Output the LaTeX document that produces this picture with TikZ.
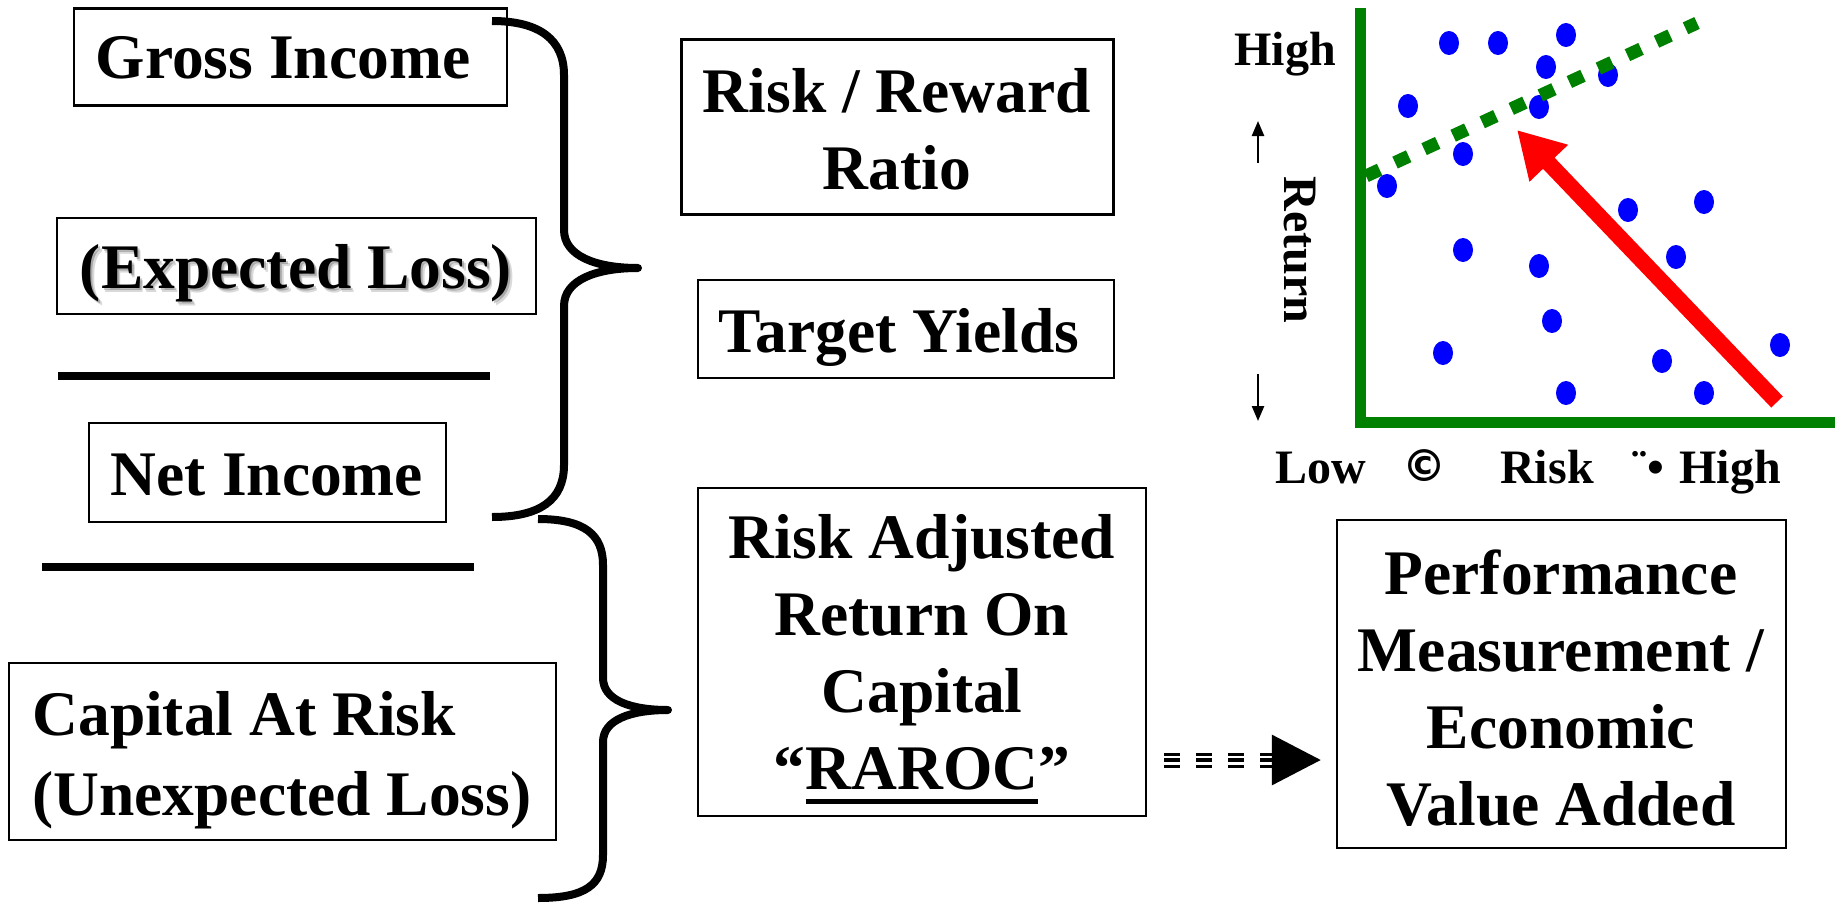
\documentclass[tikz,border=0pt]{standalone}
\usepackage{fontspec}
\setmainfont{Liberation Serif}
\newfontfamily\symfont{DejaVu Sans}
\usetikzlibrary{arrows.meta}

\definecolor{axisgreen}{RGB}{0,128,0}
\definecolor{dotblue}{RGB}{0,0,255}
\definecolor{arrowred}{RGB}{255,0,0}

\newcommand\bigbold{\fontsize{63.5}{77}\selectfont\bfseries}
\newcommand\lblbold{\fontsize{48}{56}\selectfont\bfseries}
\newsavebox\ulinebox
% thick rule under a word
\newcommand\thickunder[1]{\sbox\ulinebox{#1}\rlap{\rule[-14pt]{\wd\ulinebox}{5pt}}\usebox\ulinebox}

\begin{document}
\begin{tikzpicture}[x=1pt,y=-1pt,
  frame/.style={draw, line width=2.5pt, inner sep=0pt},
  txt/.style={inner sep=0pt, font=\bigbold, align=center},
  rule/.style={line width=7.5pt},
  brace/.style={line width=8pt, line join=round},
  lbl/.style={font=\lblbold, inner sep=0pt},
  axis/.style={axisgreen, line width=11pt},
  dot/.style={fill=dotblue},
  smallarrow/.style={line width=2.5pt, -{Triangle[length=15pt,width=12pt]}}
]
\fill[white] (0,0) rectangle (1841,902);
\useasboundingbox (0,0) rectangle (1841,902);

% ---------- left column ----------
\node[frame, minimum width=433pt, minimum height=97pt] (gross) at (290.5,57) {};
\node[txt] (grosstext) at (283,58) {Gross Income};

\node[frame, minimum width=479pt, minimum height=96pt] (expl) at (296.5,266) {};
\node[txt, text=black, opacity=.15] (explshadowb) at (299.5,277) {(Expected Loss)};
\node[txt, text=black, opacity=.22] (explshadowa) at (298,275.5) {(Expected Loss)};
\node[txt] (expltext) at (296,273) {(Expected Loss)};

\draw[rule] (58,376) -- (490,376);

\node[frame, minimum width=357pt, minimum height=99pt] (net) at (267.5,472.5) {};
\node[txt] (nettext) at (267,475) {Net Income};

\draw[rule] (42,567) -- (474,567);

\node[frame, minimum width=547pt, minimum height=177pt] (car) at (282.5,751.5) {};
\node[txt, align=left, font=\fontsize{63.5}{80}\selectfont\bfseries] (cartext) at (282,760)
  {Capital At Risk\\(Unexpected Loss)};

% ---------- braces ----------
\coordinate (b1top) at (492,21);
\coordinate (b1tip) at (638,268);
\coordinate (b1bot) at (492,517);
\draw[brace] (b1top) .. controls (540,21) and (564,40) .. (564,75)
  -- (564,230) .. controls (564,256) and (596,268) .. (b1tip)
  .. controls (596,268) and (564,280) .. (564,306)
  -- (564,465) .. controls (564,500) and (540,517) .. (b1bot);

\coordinate (b2top) at (538,519);
\coordinate (b2tip) at (668,710);
\coordinate (b2bot) at (538,898);
\draw[brace] (b2top) .. controls (585,519) and (603,535) .. (603,565)
  -- (603,678) .. controls (603,700) and (630,710) .. (b2tip)
  .. controls (630,710) and (603,720) .. (603,742)
  -- (603,855) .. controls (603,885) and (585,898) .. (b2bot);

% ---------- middle column ----------
\node[frame, minimum width=432pt, minimum height=175pt] (rr) at (897.5,127) {};
\node[txt] (rrtext) at (897,129) {Risk / Reward\\Ratio};

\node[frame, minimum width=416pt, minimum height=98pt] (ty) at (906,329) {};
\node[txt] (tytext) at (899,337) {Target Yields};

\node[frame, minimum width=448pt, minimum height=328pt] (raroc) at (922,652) {};
\node[txt] (araroctext) at (922,659)
  {Risk Adjusted\\Return On\\Capital\\“\thickunder{RAROC}”};

% ---------- right box ----------
\node[frame, minimum width=449pt, minimum height=328pt] (perf) at (1561.5,684) {};
\node[txt] (perftext) at (1561,688)
  {Performance\\Measurement /\\Economic\\Value Added};

% triple-line dashed connector
\coordinate (row) at (0,760);
\coordinate (dstart) at ([xshift=17pt]raroc.east |- row);
\coordinate (dend) at ([xshift=-15pt]perf.west |- row);
\draw[line width=15pt, dash pattern=on 16pt off 16pt, shorten >=49pt] (dstart) -- (dend);
\draw[white, line width=9pt, dash pattern=on 16pt off 16pt, shorten >=49pt] (dstart) -- (dend);
\draw[line width=3.5pt, dash pattern=on 16pt off 16pt,
      -{Triangle[length=49pt,width=50pt]}] (dstart) -- (dend);

% ---------- risk / return chart ----------
\draw[axis] (1360,8) -- (1360,427);
\draw[axis] (1355,422) -- (1835,422);

\foreach \px/\py in {1449/43, 1498/43, 1566/35, 1546/67, 1608/75, 1408/106,
                     1539/107, 1463/154, 1387/186, 1628/210, 1704/202,
                     1463/250, 1539/266, 1676/257, 1552/321, 1443/353,
                     1662/361, 1780/345, 1566/393, 1704/393}
  \fill[dot] (\px,\py) ellipse [x radius=10pt, y radius=12pt];

\draw[axisgreen, line width=13pt, dash pattern=on 15pt off 17pt] (1366,176) -- (1697,23);

\draw[arrowred, line width=16pt, -{Triangle[length=46pt,width=50pt]}] (1777,402) -- (1517,130);

\node[lbl, anchor=base] (yhigh) at (1285,65) {High};
\node[lbl, rotate=-90] (yret) at (1300,250) {Return};
\coordinate (upA) at (1258,163);
\coordinate (upB) at (1258,121);
\coordinate (dnA) at (1258,374);
\coordinate (dnB) at (1258,421);
\draw[smallarrow] (upA) -- (upB);
\draw[smallarrow] (dnA) -- (dnB);

\node[lbl, anchor=base] (xlow) at (1321,483) {Low};
\node[lbl, anchor=base, font=\fontsize{44}{50}\selectfont\bfseries\symfont] (xsym1) at (1424,481) {©};
\node[lbl, anchor=base] (xrisk) at (1547,483) {Risk};
\node[lbl, anchor=base] (xsym2) at (1648,483) {¨•};
\node[lbl, anchor=base] (xhigh) at (1730,483) {High};
\end{tikzpicture}
\end{document}
